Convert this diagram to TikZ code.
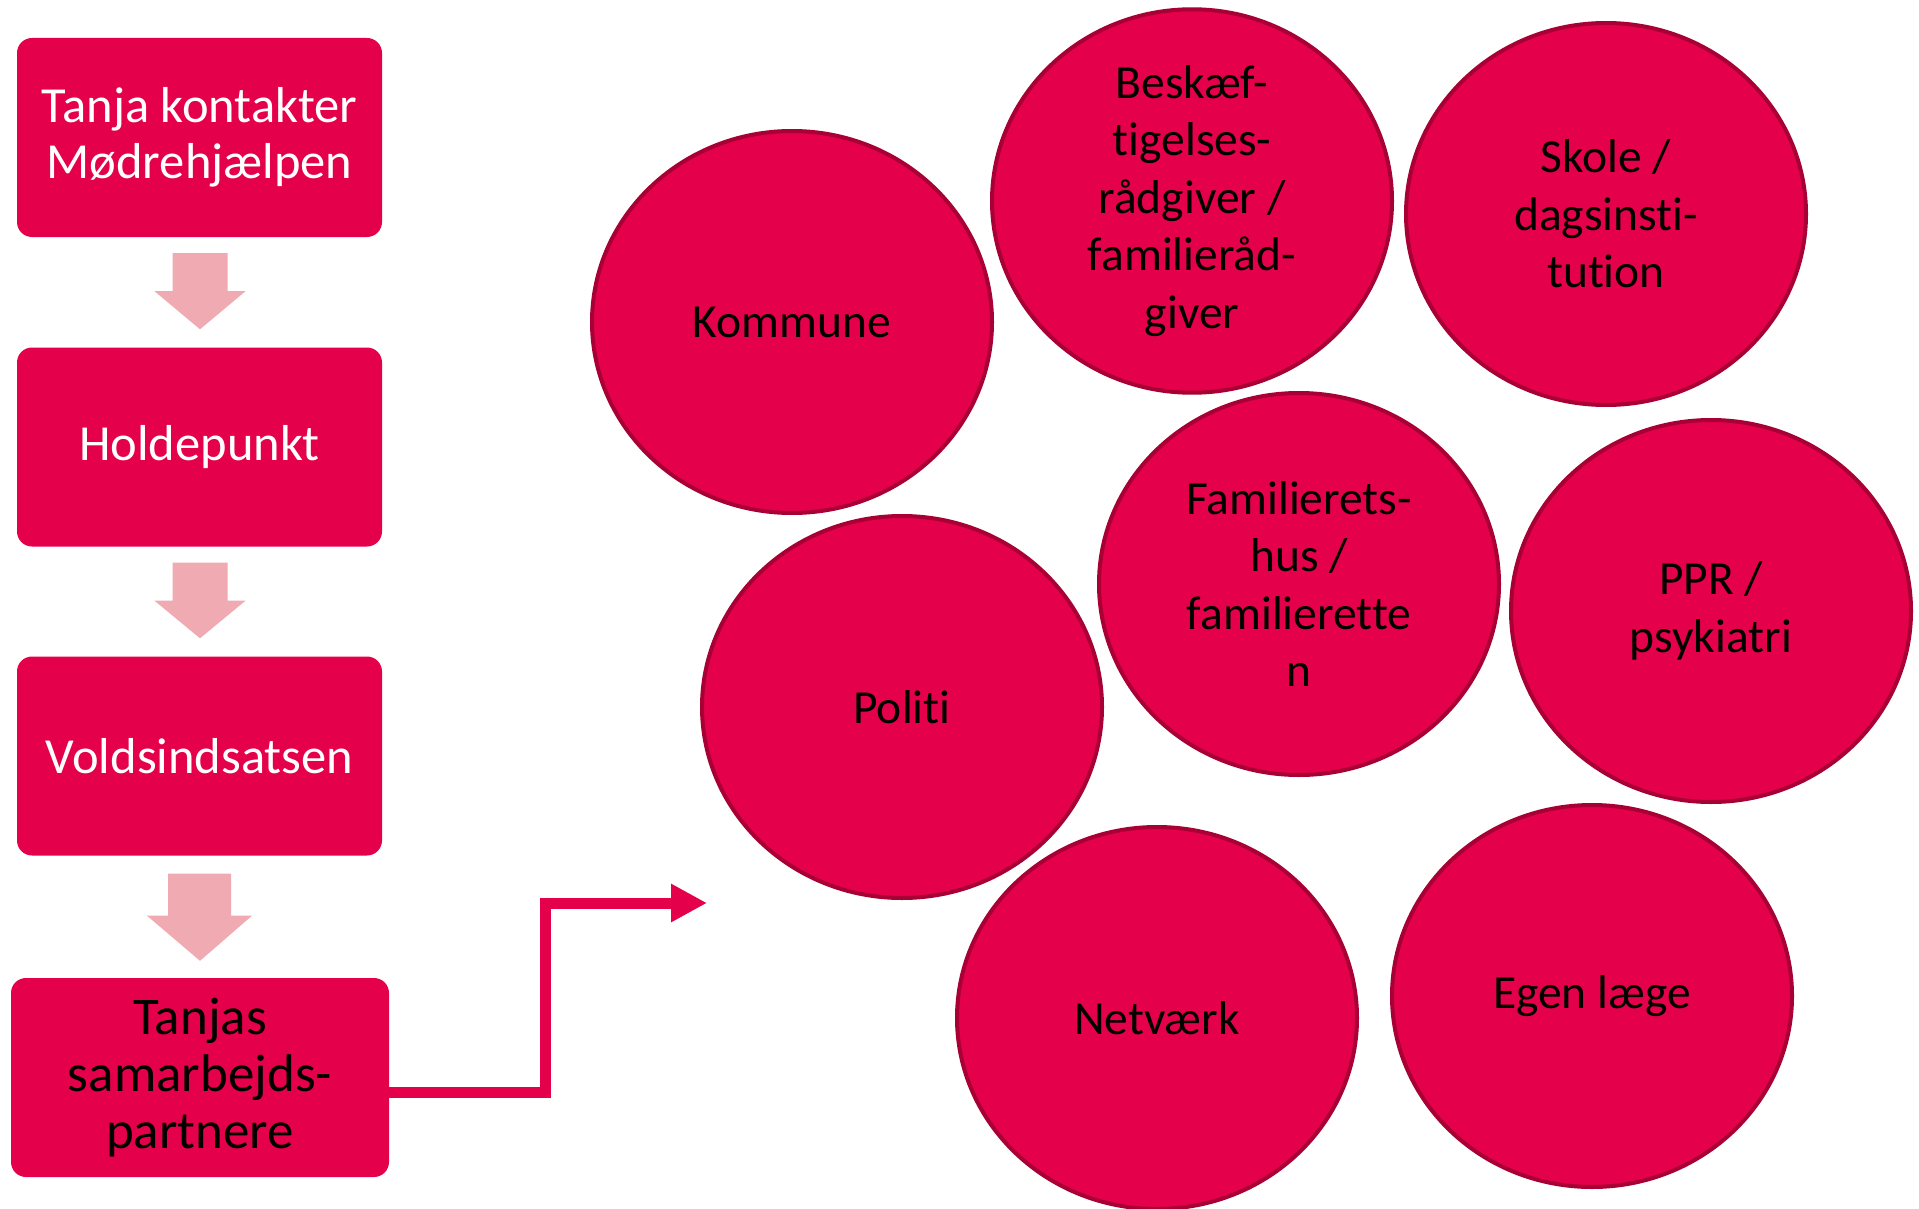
\documentclass[tikz,border=0pt]{standalone}
\usepackage{fontspec}
\setmainfont{Carlito}[Ligatures=NoCommon]
\usepackage{tikz}
\usetikzlibrary{calc}
\usetikzlibrary{shapes.geometric}
\usetikzlibrary{arrows.meta}

\definecolor{rod}{HTML}{E4004B}
\definecolor{morkrod}{HTML}{A80034}
\definecolor{lyserod}{HTML}{EFAAB2}

\tikzset{
	kasse/.style={fill=rod,rounded corners=15pt,minimum width=365pt,minimum height=199pt,
		align=center,font=\fontsize{50.5}{56.5}\selectfont,inner sep=0pt},
	cirkel/.style={ellipse,fill=rod,draw=morkrod,line width=4pt,minimum width=400pt,
		minimum height=382pt,align=center,font=\fontsize{47.5}{57.5}\selectfont,inner sep=0pt},
	pil/.style={fill=lyserod},
	forbind/.style={draw=rod,line width=11pt,-{Triangle[length=36pt,width=36pt]}}
}

\begin{document}
\begin{tikzpicture}[x=1pt,y=-1pt]
		\path[use as bounding box,fill=white] (0,0) rectangle (1919,1209);
		% trin
		\node[kasse,text=white] (b1) at (199.5,137.5) {Tanja kontakter\\Mødrehjælpen};
		\node[kasse,text=white] (b2) at (199.5,447) {Holdepunkt};
		\node[kasse,text=white] (b3) at (199.5,756) {Voldsindsatsen};
		\node[kasse,text=black,minimum width=378pt,font=\fontsize{53}{57}\selectfont] (b4) at (200,1077.5) {Tanjas\\samarbejds-\\partnere};
		% pile mellem trin
		\foreach \a/\b in {b1/b2,b2/b3}
			\fill[pil] ($(\a.south)+(-27,16)$) -- ++(55,0) -- ++(0,38) -- ++(18,0)
				-- ($(\b.north)+(0.5,-18)$) -- ($(\a.south)+(-45,54)$) -- ++(18,0) -- cycle;
		\fill[pil] ($(b3.south)+(-31.5,18)$) -- ++(63,0) -- ++(0,42) -- ++(21,0)
			-- ($(b4.north)+(0,-17)$) -- ($(b3.south)+(-52.5,60)$) -- ++(21,0) -- cycle;
		% samarbejdspartnere
		\node[cirkel] (kommune) at (792,322) {Kommune};
		\node[cirkel] (beskaef) at (1192,201) {Beskæf-\\tigelses-\\rådgiver /\\familieråd-\\giver};
		\node[cirkel] (skole) at (1606,214) {Skole /\\dagsinsti-\\tution};
		\node[cirkel] (politi) at (902,707) {Politi};
		\node[cirkel] (familie) at (1299,584) {Familierets-\\hus /\\familierette\\n};
		\node[cirkel] (ppr) at (1711,611) {PPR /\\psykiatri};
		\node[cirkel] (netvaerk) at (1157,1018) {Netværk};
		\node[cirkel] (egen) at (1592,996) {Egen læge};
		% forbindelse
		\coordinate (knaek) at (545,903);
		\coordinate (spids) at (707,903);
		\draw[forbind] ($(b4.east)+(0,15)$) -| (knaek) -- (spids);
	\end{tikzpicture}
\end{document}
